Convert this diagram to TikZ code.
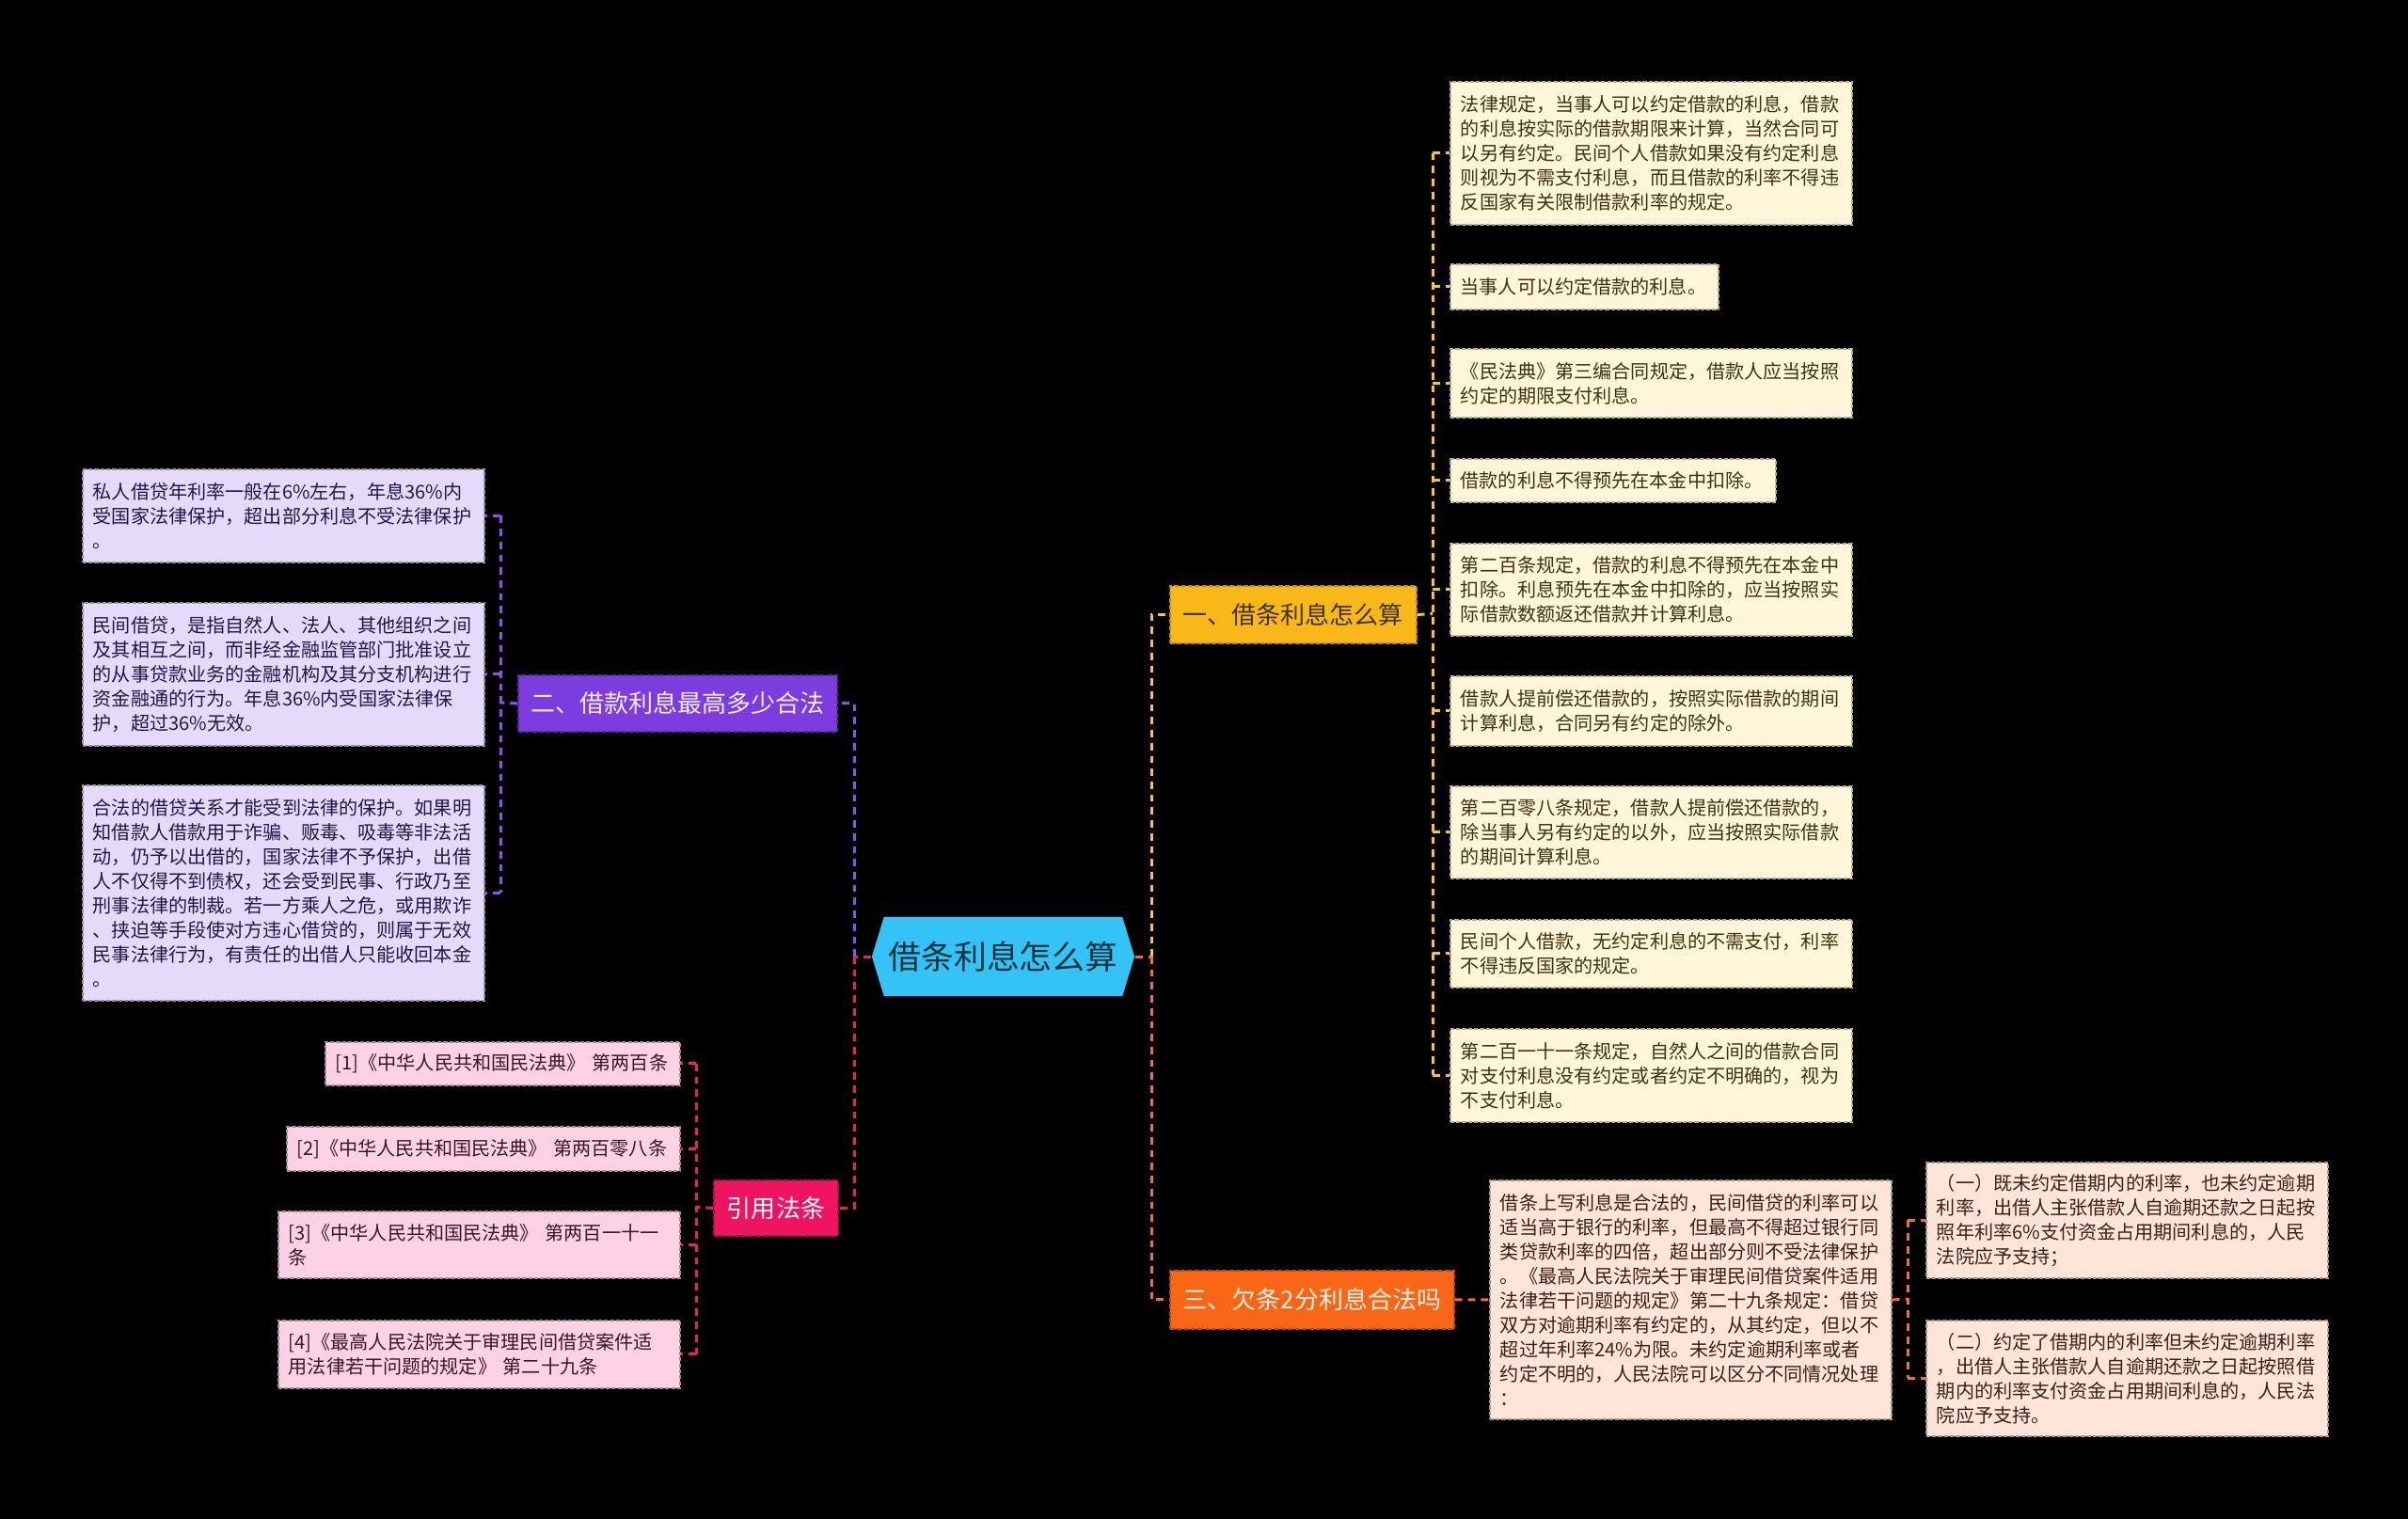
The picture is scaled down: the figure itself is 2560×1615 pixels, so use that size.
\documentclass[tikz,border=0pt]{standalone}
\usepackage{fontspec}
\setmainfont{Noto Sans CJK SC}
\usetikzlibrary{shapes.symbols}
\definecolor{bgc}{HTML}{000000}
\definecolor{rootF}{HTML}{33C3F5}
\definecolor{rootT}{HTML}{17323F}
\definecolor{cY}{HTML}{F8B918}
\definecolor{cYl}{HTML}{F9C433}
\definecolor{cYleaf}{HTML}{FFF5D9}
\definecolor{cYt}{HTML}{3E3212}
\definecolor{cV}{HTML}{7D3CE0}
\definecolor{cVl}{HTML}{8A52E8}
\definecolor{cVleaf}{HTML}{E5DAFA}
\definecolor{cVt}{HTML}{24164A}
\definecolor{cO}{HTML}{F86616}
\definecolor{cOl}{HTML}{F0702E}
\definecolor{cOleaf}{HTML}{FFE4D8}
\definecolor{cOt}{HTML}{36221A}
\definecolor{cP}{HTML}{EE1462}
\definecolor{cPl}{HTML}{E6206A}
\definecolor{cPleaf}{HTML}{FFD1E5}
\definecolor{cPt}{HTML}{3A1626}
\begin{document}
\begin{tikzpicture}[x=0.01cm,y=-0.01cm,
  leaf/.style={anchor=north west, inner sep=0pt, align=left,
    font=\fontsize{5.72}{7.4}\selectfont,
    draw, line width=0.45pt, dash pattern=on 1.2pt off 0.6pt},
  leafY/.style={leaf, fill=cYleaf, draw=cYleaf!70!black, text=cYt},
  leafV/.style={leaf, fill=cVleaf, draw=cVleaf!65!black, text=cVt},
  leafO/.style={leaf, fill=cOleaf, draw=cOleaf!65!black, text=cOt},
  leafP/.style={leaf, fill=cPleaf, draw=cPleaf!65!black, text=cPt},
  wide/.style={minimum width=121.5pt, text width=115.2pt},
  branch/.style={anchor=north west, inner sep=0pt, align=center,
    font=\fontsize{7.4}{8.5}\selectfont,
    draw, line width=0.5pt, dash pattern=on 1.4pt off 0.7pt},
  conn/.style={line width=0.85pt, dash pattern=on 2.2pt off 1.7pt},
  rootbox/.style={signal, signal to=west and east, signal pointer angle=146,
    fill=rootF, text=rootT, inner sep=0pt, minimum width=79.4pt, minimum height=23.9pt,
    font=\fontsize{9.9}{11}\selectfont}
]
\fill[bgc] (0,0) rectangle (2560,1615);
\useasboundingbox (0,0) rectangle (2560,1615);

% root
\node[rootbox] (root) at (1066.5,1017) {借条利息怎么算};

% branches
\node[branch, fill=cY, draw=cY!75!black, text=cYt, minimum width=74.5pt, minimum height=17.4pt] (b1) at (1243,622) {一、借条利息怎么算};
\node[branch, fill=cV, draw=cV!70!black, text=white!92!cV, minimum width=96.5pt, minimum height=17.1pt] (b2) at (550,717) {二、借款利息最高多少合法};
\node[branch, fill=cO, draw=cO!75!black, text=white!92!cO, minimum width=85.9pt, minimum height=17.6pt] (b3) at (1243,1350) {三、欠条2分利息合法吗};
\node[branch, fill=cP, draw=cP!75!black, text=white, minimum width=37.6pt, minimum height=16.8pt] (b4) at (758,1254) {引用法条};

% branch 1 leaves
\node[leafY, wide, minimum height=43.2pt] (y1) at (1541,86) {法律规定，当事人可以约定借款的利息，借款\\的利息按实际的借款期限来计算，当然合同可\\以另有约定。民间个人借款如果没有约定利息\\则视为不需支付利息，而且借款的利率不得违\\反国家有关限制借款利率的规定。};
\node[leafY, minimum width=81.1pt, text width=74.9pt, minimum height=13.7pt] (y2) at (1541,280) {当事人可以约定借款的利息。};
\node[leafY, wide, minimum height=20.8pt] (y3) at (1541,370) {《民法典》第三编合同规定，借款人应当按照\\约定的期限支付利息。};
\node[leafY, minimum width=98.4pt, text width=92.2pt, minimum height=13.1pt] (y4) at (1541,487) {借款的利息不得预先在本金中扣除。};
\node[leafY, wide, minimum height=27.9pt] (y5) at (1541,577) {第二百条规定，借款的利息不得预先在本金中\\扣除。利息预先在本金中扣除的，应当按照实\\际借款数额返还借款并计算利息。};
\node[leafY, wide, minimum height=21.1pt] (y6) at (1541,718) {借款人提前偿还借款的，按照实际借款的期间\\计算利息，合同另有约定的除外。};
\node[leafY, wide, minimum height=27.9pt] (y7) at (1541,835) {第二百零八条规定，借款人提前偿还借款的，\\除当事人另有约定的以外，应当按照实际借款\\的期间计算利息。};
\node[leafY, wide, minimum height=20.5pt] (y8) at (1541,977) {民间个人借款，无约定利息的不需支付，利率\\不得违反国家的规定。};
\node[leafY, wide, minimum height=28.2pt] (y9) at (1541,1093) {第二百一十一条规定，自然人之间的借款合同\\对支付利息没有约定或者约定不明确的，视为\\不支付利息。};

% branch 2 leaves
\node[leafV, wide, minimum height=28.2pt] (v1) at (87,498) {私人借贷年利率一般在6\%左右，年息36\%内\\受国家法律保护，超出部分利息不受法律保护\\。};
\node[leafV, wide, minimum height=43.2pt] (v2) at (87,640) {民间借贷，是指自然人、法人、其他组织之间\\及其相互之间，而非经金融监管部门批准设立\\的从事贷款业务的金融机构及其分支机构进行\\资金融通的行为。年息36\%内受国家法律保\\护，超过36\%无效。};
\node[leafV, wide, minimum height=65.2pt] (v3) at (87,834) {合法的借贷关系才能受到法律的保护。如果明\\知借款人借款用于诈骗、贩毒、吸毒等非法活\\动，仍予以出借的，国家法律不予保护，出借\\人不仅得不到债权，还会受到民事、行政乃至\\刑事法律的制裁。若一方乘人之危，或用欺诈\\、挟迫等手段使对方违心借贷的，则属于无效\\民事法律行为，有责任的出借人只能收回本金\\。};

% branch 3 leaves
\node[leafO, wide, minimum height=72.3pt] (o1) at (1583,1254) {借条上写利息是合法的，民间借贷的利率可以\\适当高于银行的利率，但最高不得超过银行同\\类贷款利率的四倍，超出部分则不受法律保护\\。《最高人民法院关于审理民间借贷案件适用\\法律若干问题的规定》第二十九条规定：借贷\\双方对逾期利率有约定的，从其约定，但以不\\超过年利率24\%为限。未约定逾期利率或者\\约定不明的，人民法院可以区分不同情况处理\\：};
\node[leafO, wide, minimum height=35.0pt] (s1) at (2047,1235) {（一）既未约定借期内的利率，也未约定逾期\\利率，出借人主张借款人自逾期还款之日起按\\照年利率6\%支付资金占用期间利息的，人民\\法院应予支持；};
\node[leafO, wide, minimum height=35.0pt] (s2) at (2047,1403) {（二）约定了借期内的利率但未约定逾期利率\\，出借人主张借款人自逾期还款之日起按照借\\期内的利率支付资金占用期间利息的，人民法\\院应予支持。};

% branch 4 leaves
\node[leafP, minimum width=107.3pt, text width=101.0pt, minimum height=13.1pt] (p1) at (345,1107) {[1]《中华人民共和国民法典》 第两百条};
\node[leafP, minimum width=118.9pt, text width=112.7pt, minimum height=13.4pt] (p2) at (304,1197) {[2]《中华人民共和国民法典》 第两百零八条};
\node[leafP, wide, minimum height=20.2pt] (p3) at (295,1287) {[3]《中华人民共和国民法典》 第两百一十一\\条};
\node[leafP, wide, minimum height=20.5pt] (p4) at (295,1403) {[4]《最高人民法院关于审理民间借贷案件适\\用法律若干问题的规定》 第二十九条};

% root connectors
\coordinate (jr) at (1224,1017);
\coordinate (jl) at (908,1017);
\draw[conn, cOl] (root.east) -- (jr);
\draw[conn, cYl] (jr) |- (b1.west);
\draw[conn, cOl] (jr) |- (b3.west);
\draw[conn, cPl] (root.west) -- (jl);
\draw[conn, cVl] (jl) |- (b2.east);
\draw[conn, cPl] (jl) |- (b4.east);

% branch 1 connectors
\coordinate (k1) at (1523,652.5);
\draw[conn, cYl] (b1.east) -- (k1);
\draw[conn, cYl] (k1 |- y1.west) -- (k1 |- y9.west);
\foreach \n in {y1,y2,y3,y4,y5,y6,y7,y8,y9}
  \draw[conn, cYl] (k1 |- \n.west) -- (\n.west);

% branch 2 connectors
\coordinate (k2) at (532,747);
\draw[conn, cVl] (b2.west) -- (k2);
\draw[conn, cVl] (k2 |- v1.east) -- (k2 |- v3.east);
\foreach \n in {v1,v2,v3}
  \draw[conn, cVl] (k2 |- \n.east) -- (\n.east);

% branch 3 connectors
\draw[conn, cOl] (b3.east) -- (o1.west);
\coordinate (k3) at (2028,1381);
\draw[conn, cOl] (o1.east) -- (k3);
\draw[conn, cOl] (k3 |- s1.west) -- (k3 |- s2.west);
\foreach \n in {s1,s2}
  \draw[conn, cOl] (k3 |- \n.west) -- (\n.west);

% branch 4 connectors
\coordinate (k4) at (740,1283.5);
\draw[conn, cPl] (b4.west) -- (k4);
\draw[conn, cPl] (k4 |- p1.east) -- (k4 |- p4.east);
\foreach \n in {p1,p2,p3,p4}
  \draw[conn, cPl] (k4 |- \n.east) -- (\n.east);
\end{tikzpicture}
\end{document}
